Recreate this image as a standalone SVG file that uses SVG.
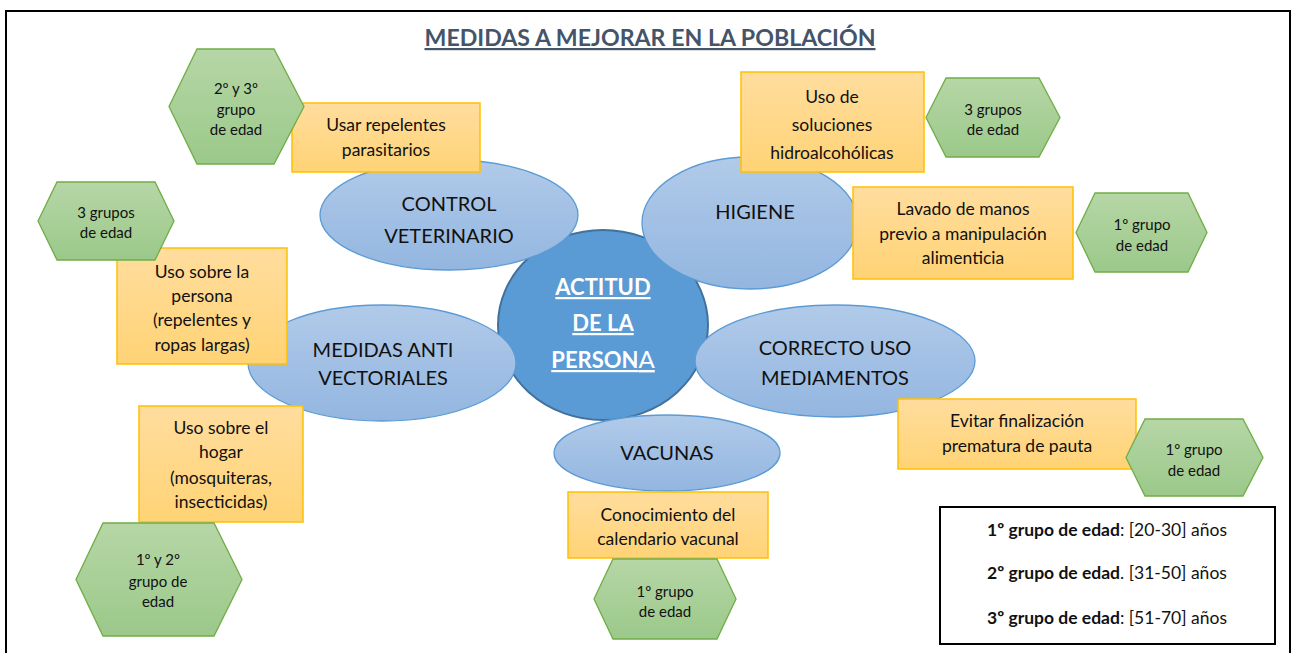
<svg xmlns="http://www.w3.org/2000/svg" width="1293" height="653" viewBox="0 0 1293 653">
<defs>
<linearGradient id="gBlue" x1="0" y1="0" x2="0" y2="1"><stop offset="0" stop-color="#B1CAE9"/><stop offset="1" stop-color="#93B6E0"/></linearGradient>
<linearGradient id="gGold" x1="0" y1="0" x2="0" y2="1"><stop offset="0" stop-color="#FFDD9E"/><stop offset="1" stop-color="#FFD375"/></linearGradient>
<linearGradient id="gGreen" x1="0" y1="0" x2="0" y2="1"><stop offset="0" stop-color="#B6D6A6"/><stop offset="1" stop-color="#9BC98A"/></linearGradient>
</defs>
<style>
text{font-family:Lato,"Liberation Sans",sans-serif;text-anchor:middle;fill:#111}
.ell{fill:url(#gBlue);stroke:#5B9BD5;stroke-width:1.3}
.box{fill:url(#gGold);stroke:#FFC000;stroke-width:1.5}
.hex{fill:url(#gGreen);stroke:#70AD47;stroke-width:1.3}
.et{font-size:20px}
.bt{font-size:17.5px}
.ht{font-size:15px}
.lt{font-size:17.5px}
</style>
<rect x="0" y="0" width="1293" height="653" fill="#fff"/>
<rect id="frame" x="6" y="11" width="1284" height="660" fill="none" stroke="#000" stroke-width="2"/>
<g id="title"><text x="650" y="46" style="font-size:22px;font-weight:bold;fill:#44546A;text-decoration:underline" textLength="451" lengthAdjust="spacingAndGlyphs">MEDIDAS A MEJORAR EN LA POBLACIÓN</text></g>
<g id="connectors"></g>

<g id="center">
<ellipse cx="603" cy="325" rx="105" ry="95" fill="#5B9BD5" stroke="#41719C" stroke-width="2"/>
<text x="603" y="295" style="font-size:22px;font-weight:bold;fill:#fff;text-decoration:underline">ACTITUD</text>
<text x="603" y="331" style="font-size:22px;font-weight:bold;fill:#fff;text-decoration:underline">DE LA</text>
<text x="603" y="368" style="font-size:22px;font-weight:bold;fill:#fff;text-decoration:underline">PERSON<tspan style="font-weight:normal;font-size:24px">A</tspan></text>
</g>

<g id="control-veterinario">
<ellipse class="ell" cx="449" cy="215" rx="129" ry="55"/>
<text class="et" x="449" y="211">CONTROL</text>
<text class="et" x="449" y="243">VETERINARIO</text>
</g>
<g id="higiene">
<ellipse class="ell" cx="750" cy="223" rx="108" ry="66"/>
<text class="et" x="755" y="219">HIGIENE</text>
</g>
<g id="medidas-anti-vectoriales">
<ellipse class="ell" cx="382" cy="363" rx="134" ry="58"/>
<text class="et" x="383" y="357">MEDIDAS ANTI</text>
<text class="et" x="383" y="385">VECTORIALES</text>
</g>
<g id="correcto-uso">
<ellipse class="ell" cx="835" cy="361" rx="140" ry="56"/>
<text class="et" x="835" y="355">CORRECTO USO</text>
<text class="et" x="835" y="385">MEDIAMENTOS</text>
</g>
<g id="vacunas">
<ellipse class="ell" cx="667" cy="453" rx="113" ry="38"/>
<text class="et" x="667" y="460">VACUNAS</text>
</g>

<g id="box-repelentes">
<rect class="box" x="292" y="103" width="188" height="69"/>
<text class="bt" x="386" y="131">Usar repelentes</text>
<text class="bt" x="386" y="156">parasitarios</text>
</g>
<g id="box-hidroalcoholicas">
<rect class="box" x="741" y="72" width="183" height="100"/>
<text class="bt" x="832" y="103">Uso de</text>
<text class="bt" x="832" y="131">soluciones</text>
<text class="bt" x="832" y="159">hidroalcohólicas</text>
</g>
<g id="box-lavado">
<rect class="box" x="853" y="187" width="220" height="92"/>
<text class="bt" x="963" y="215">Lavado de manos</text>
<text class="bt" x="963" y="240">previo a manipulación</text>
<text class="bt" x="963" y="264">alimenticia</text>
</g>
<g id="box-persona">
<rect class="box" x="117" y="248" width="170" height="116"/>
<text class="bt" x="202" y="278">Uso sobre la</text>
<text class="bt" x="202" y="302">persona</text>
<text class="bt" x="202" y="326">(repelentes y</text>
<text class="bt" x="202" y="351">ropas largas)</text>
</g>
<g id="box-evitar">
<rect class="box" x="898" y="399" width="238" height="70"/>
<text class="bt" x="1017" y="427">Evitar finalización</text>
<text class="bt" x="1017" y="452">prematura de pauta</text>
</g>
<g id="box-hogar">
<rect class="box" x="139" y="406" width="164" height="116"/>
<text class="bt" x="221" y="434">Uso sobre el</text>
<text class="bt" x="221" y="458">hogar</text>
<text class="bt" x="221" y="484">(mosquiteras,</text>
<text class="bt" x="221" y="508">insecticidas)</text>
</g>
<g id="box-calendario">
<rect class="box" x="568" y="492" width="200" height="66"/>
<text class="bt" x="668" y="521">Conocimiento del</text>
<text class="bt" x="668" y="545">calendario vacunal</text>
</g>

<g id="hex-2y3">
<polygon class="hex" points="169,106.5 197,49 274,49 304,106.5 274,164 197,164"/>
<text class="ht" x="236" y="94">2º y 3º</text>
<text class="ht" x="236" y="115">grupo</text>
<text class="ht" x="236" y="135">de edad</text>
</g>
<g id="hex-3grupos-top">
<polygon class="hex" points="926,117.5 946,78 1039,78 1060,117.5 1039,157 946,157"/>
<text class="ht" x="993" y="115">3 grupos</text>
<text class="ht" x="993" y="135">de edad</text>
</g>
<g id="hex-3grupos-left">
<polygon class="hex" points="38,221 57,182 155,182 174,221 155,260 57,260"/>
<text class="ht" x="106" y="218">3 grupos</text>
<text class="ht" x="106" y="238">de edad</text>
</g>
<g id="hex-1-higiene">
<polygon class="hex" points="1076,232.5 1095,193 1188,193 1207,232.5 1188,272 1095,272"/>
<text class="ht" x="1142" y="230">1º grupo</text>
<text class="ht" x="1142" y="251">de edad</text>
</g>
<g id="hex-1-medicamentos">
<polygon class="hex" points="1126,457.5 1145,419 1243,419 1263,457.5 1243,496 1145,496"/>
<text class="ht" x="1194" y="455">1º grupo</text>
<text class="ht" x="1194" y="476">de edad</text>
</g>
<g id="hex-1y2">
<polygon class="hex" points="76,579.5 103,523 214,523 242,579.5 214,636 103,636"/>
<text class="ht" x="158" y="565">1º y 2º</text>
<text class="ht" x="158" y="587">grupo de</text>
<text class="ht" x="158" y="607">edad</text>
</g>
<g id="hex-1-vacunas">
<polygon class="hex" points="594,599 613,559 717,559 736,599 717,639 613,639"/>
<text class="ht" x="665" y="597">1º grupo</text>
<text class="ht" x="665" y="617">de edad</text>
</g>

<g id="legend">
<rect x="940" y="507" width="335" height="137" fill="#fff" stroke="#000" stroke-width="2"/>
<text class="lt" x="1107" y="536"><tspan font-weight="bold">1º grupo de edad</tspan>: [20-30] años</text>
<text class="lt" x="1107" y="579"><tspan font-weight="bold">2º grupo de edad</tspan>. [31-50] años</text>
<text class="lt" x="1107" y="624"><tspan font-weight="bold">3º grupo de edad</tspan>: [51-70] años</text>
</g>
</svg>
